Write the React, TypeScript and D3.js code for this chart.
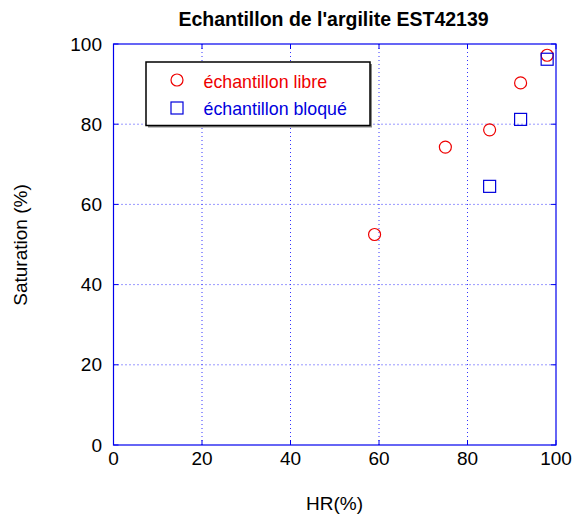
import { scaleLinear } from "d3";

const hrLibre = [59, 75, 85, 92, 98];
const satLibre = [52.5, 74.3, 78.6, 90.3, 97.2];
const hrBloque = [85, 92, 98];
const satBloque = [64.5, 81.2, 96.2];
const xTicks = [0, 20, 40, 60, 80, 100];
const yTicks = [0, 20, 40, 60, 80, 100];
const seriesLabels = ["échantillon libre", "échantillon bloqué"];

const width = 574;
const height = 522;
const left = 113.5;
const right = 556;
const top = 44;
const bottom = 445;
const font = "Liberation Sans, Arial, sans-serif";
const gridColor = "#3333ff";

const x = scaleLinear().domain([0, 100]).range([left, right]);
const y = scaleLinear().domain([0, 100]).range([bottom, top]);

export default function App() {
  return (
    <svg
      width={width}
      height={height}
      style={{ position: "absolute", left: 0, top: 0 }}
      fontFamily={font}
    >
      <rect width={width} height={height} fill="white" />
      {/* grid */}
      {xTicks.slice(1, -1).map((t) => (
        <line
          key={"gx" + t}
          x1={x(t)}
          x2={x(t)}
          y1={top}
          y2={bottom}
          stroke={gridColor}
          strokeWidth={1}
          strokeDasharray="1,3"
        />
      ))}
      {yTicks.slice(1, -1).map((t) => (
        <line
          key={"gy" + t}
          x1={left}
          x2={right}
          y1={y(t)}
          y2={y(t)}
          stroke={gridColor}
          strokeWidth={1}
          strokeDasharray="1,3"
        />
      ))}
      {/* ticks */}
      {xTicks.map((t) => (
        <g key={"tx" + t}>
          <line x1={x(t)} x2={x(t)} y1={bottom} y2={bottom - 5} stroke="#0000ee" />
          <line x1={x(t)} x2={x(t)} y1={top} y2={top + 5} stroke="#0000ee" />
          <text x={x(t)} y={465} fontSize={19} textAnchor="middle" fill="#000">
            {t}
          </text>
        </g>
      ))}
      {yTicks.map((t) => (
        <g key={"ty" + t}>
          <line x1={left} x2={left + 5} y1={y(t)} y2={y(t)} stroke="#0000ee" />
          <line x1={right} x2={right - 5} y1={y(t)} y2={y(t)} stroke="#0000ee" />
          <text x={102} y={y(t) + 6.5} fontSize={19} textAnchor="end" fill="#000">
            {t}
          </text>
        </g>
      ))}
      {/* frame */}
      <rect
        x={left}
        y={top}
        width={right - left}
        height={bottom - top}
        fill="none"
        stroke="#0000ee"
        strokeWidth={1.2}
      />
      {/* data */}
      {hrLibre.map((h, i) => (
        <circle
          key={"c" + i}
          cx={x(h)}
          cy={y(satLibre[i])}
          r={6}
          fill="none"
          stroke="#ee0000"
          strokeWidth={1.2}
        />
      ))}
      {hrBloque.map((h, i) => (
        <rect
          key={"s" + i}
          x={x(h) - 6}
          y={y(satBloque[i]) - 6}
          width={12}
          height={12}
          fill="none"
          stroke="#0000dd"
          strokeWidth={1.2}
        />
      ))}
      {/* legend */}
      <rect x={148} y={64} width={224} height={63.5} fill="#888" />
      <rect x={146} y={62} width={224} height={63.5} fill="white" stroke="#000" strokeWidth={1.5} />
      <circle cx={177} cy={80} r={6} fill="none" stroke="#ee0000" strokeWidth={1.2} />
      <text x={203.5} y={87.5} fontSize={17.8} fill="#ee0000">
        {seriesLabels[0]}
      </text>
      <rect x={171} y={102} width={12} height={12} fill="none" stroke="#0000dd" strokeWidth={1.2} />
      <text x={203.5} y={115} fontSize={17.8} fill="#0000dd">
        {seriesLabels[1]}
      </text>
      {/* titles */}
      <text x={333.5} y={25.5} fontSize={19.5} fontWeight="bold" textAnchor="middle">
        Echantillon de l'argilite EST42139
      </text>
      <text x={334.5} y={510} fontSize={19} textAnchor="middle">
        HR(%)
      </text>
      <text
        transform="translate(26.5,245) rotate(-90)"
        fontSize={19}
        textAnchor="middle"
      >
        Saturation (%)
      </text>
    </svg>
  );
}
